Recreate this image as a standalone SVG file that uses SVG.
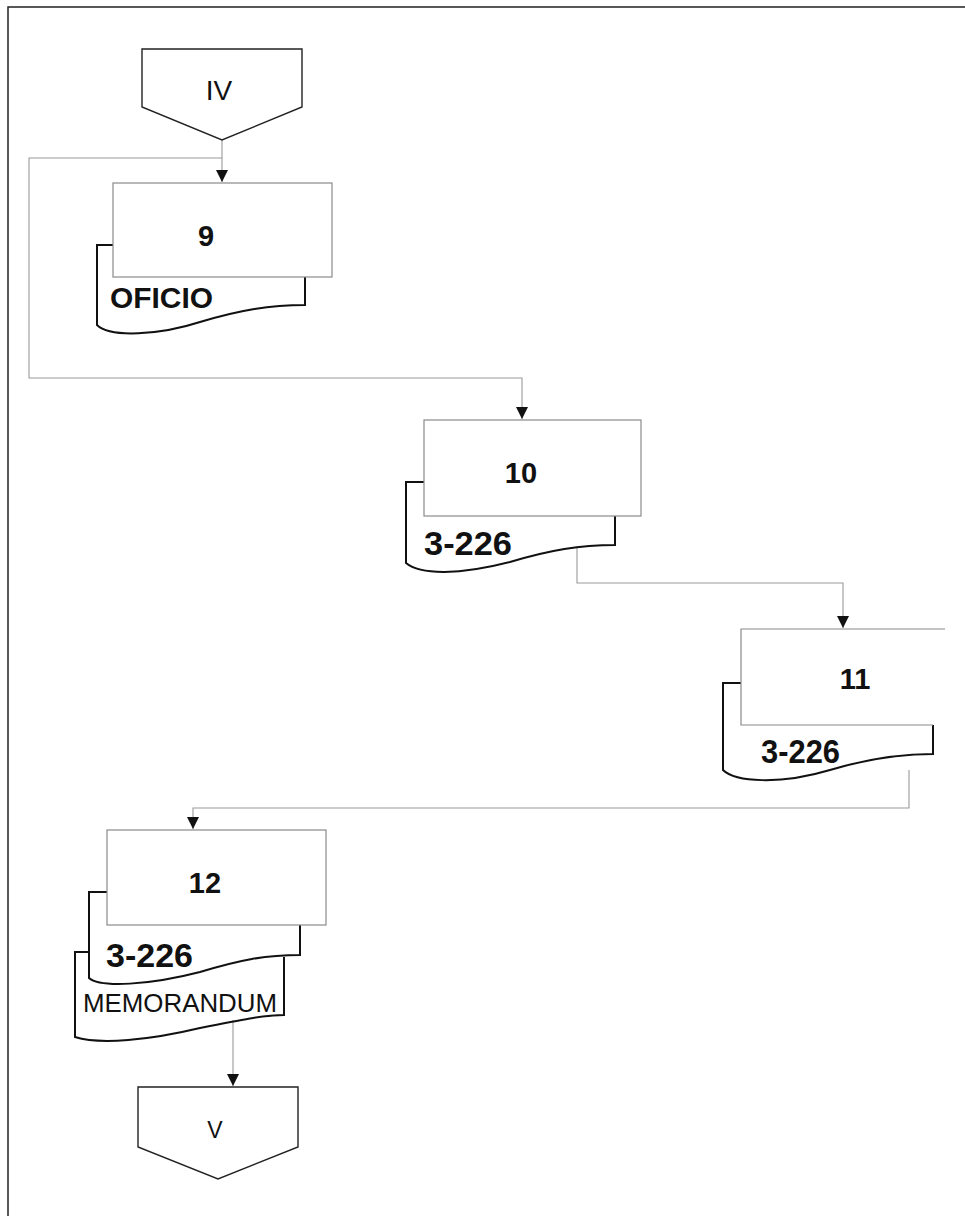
<svg xmlns="http://www.w3.org/2000/svg" width="965" height="1216" viewBox="0 0 965 1216">
<style>
.page{fill:none;stroke:#222;stroke-width:1.5}
.box{fill:none;stroke:#8a8a8a;stroke-width:1.2}
.doc{fill:none;stroke:#111;stroke-width:2}
.off{fill:none;stroke:#222;stroke-width:1.4}
.conn{fill:none;stroke:#9a9a9a;stroke-width:1.1}
.num{font-family:"Liberation Sans",Arial,sans-serif;font-weight:bold;font-size:29px;fill:#111}
.lab{font-family:"Liberation Sans",Arial,sans-serif;font-weight:bold;font-size:33px;fill:#111}
.txt{font-family:"Liberation Sans",Arial,sans-serif;fill:#111}
</style>
<defs>
<marker id="arr" markerUnits="userSpaceOnUse" markerWidth="14" markerHeight="14" refX="13" refY="7" orient="auto" viewBox="0 0 14 14">
<path d="M1,1 L13,7 L1,13 Z" fill="#111"/>
</marker>
</defs>
<rect width="965" height="1216" fill="#ffffff"/>
<path class="page" d="M965,7 L8,7 L8,1216"/>
<g id="connectors">
<path class="conn" d="M222,140 L222,182" marker-end="url(#arr)"/>
<path class="conn" d="M222,158 L29,158 L29,378 L522,378 L522,419" marker-end="url(#arr)"/>
<path class="conn" d="M577,548 L577,583 L843,583 L843,628" marker-end="url(#arr)"/>
<path class="conn" d="M909,770 L909,808 L193,808 L193,829" marker-end="url(#arr)"/>
<path class="conn" d="M233,1020 L233,1086" marker-end="url(#arr)"/>
</g>
<g id="node-IV">
<path class="off" d="M142,49 L302,49 L302,107 L222,140 L142,107 Z"/>
<text class="txt" x="219" y="100" font-size="28" text-anchor="middle">IV</text>
</g>
<g id="node-9">
<path class="doc" d="M113,245 L97,245 L97,325 C110,338 160,335 200,322 C240,310 270,305 305,305 L305,277"/>
<rect class="box" x="113" y="183" width="219" height="94"/>
<text class="num" x="206" y="246" text-anchor="middle">9</text>
<text class="txt" x="110" y="308" font-size="29" font-weight="bold" textLength="103" lengthAdjust="spacingAndGlyphs">OFICIO</text>
</g>
<g id="node-10">
<path class="doc" d="M424,482 L406,482 L406,563 C420,575 460,575 510,562 C550,550 580,545 615,545 L615,516"/>
<rect class="box" x="424" y="420" width="217" height="96"/>
<text class="num" x="521" y="483" text-anchor="middle">10</text>
<text class="lab" x="424" y="555" textLength="88" lengthAdjust="spacingAndGlyphs">3-226</text>
</g>
<g id="node-11">
<path class="doc" d="M741,683 L723,683 L723,770 C735,782 780,785 830,770 C870,758 900,754 933,754 L933,725"/>
<path class="box" d="M945,629 L741,629 L741,725 L933,725"/>
<text class="num" x="855" y="689" text-anchor="middle">11</text>
<text class="lab" x="761" y="763" textLength="79" lengthAdjust="spacingAndGlyphs">3-226</text>
</g>
<g id="node-12">
<path class="doc" d="M89,952 L75,952 L75,1037 C100,1045 150,1040 200,1028 C240,1020 265,1015 284,1015 L284,957"/>
<path class="doc" d="M107,892 L89,892 L89,978 C100,988 150,985 200,972 C240,960 265,955 300,955 L300,925"/>
<rect class="box" x="107" y="830" width="219" height="95"/>
<text class="num" x="205" y="893" text-anchor="middle">12</text>
<text class="lab" x="106" y="967" textLength="87" lengthAdjust="spacingAndGlyphs">3-226</text>
<text class="txt" x="83" y="1012" font-size="26" textLength="194" lengthAdjust="spacingAndGlyphs">MEMORANDUM</text>
</g>
<g id="node-V">
<path class="off" d="M138,1087 L298,1087 L298,1147 L218,1179 L138,1147 Z"/>
<text class="txt" x="215" y="1138" font-size="23" text-anchor="middle">V</text>
</g>
</svg>
